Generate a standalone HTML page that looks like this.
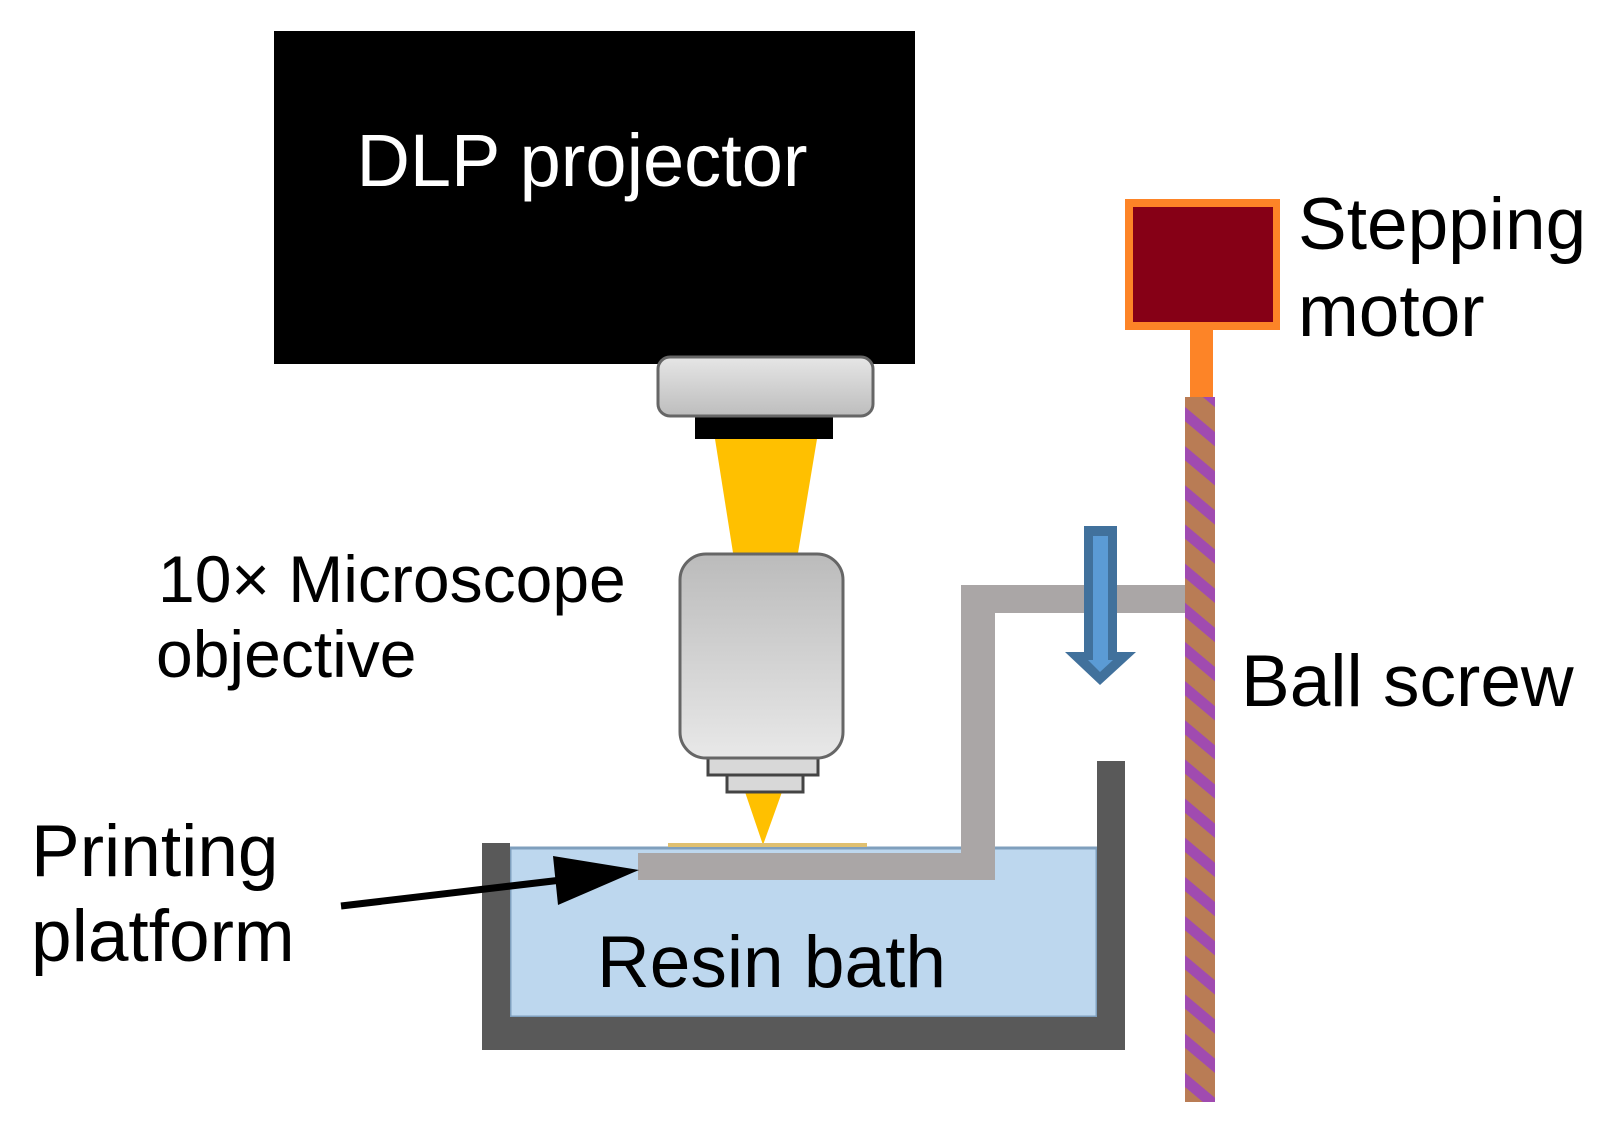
<!DOCTYPE html>
<html><head><meta charset="utf-8"><style>
html,body{margin:0;padding:0;background:#fff;}
svg{display:block;}
text{font-family:"Liberation Sans",Arial,sans-serif;}
</style></head><body>
<svg width="1606" height="1134" viewBox="0 0 1606 1134" xmlns="http://www.w3.org/2000/svg">
<defs>
<linearGradient id="g1" x1="0" y1="0" x2="0" y2="1"><stop offset="0" stop-color="#e6e6e6"/><stop offset="1" stop-color="#bdbdbd"/></linearGradient>
<linearGradient id="g2" x1="0" y1="0" x2="0" y2="1"><stop offset="0" stop-color="#bbbbbb"/><stop offset="1" stop-color="#e8e8e8"/></linearGradient>
<pattern id="stripes" patternUnits="userSpaceOnUse" width="30" height="30" patternTransform="rotate(40)">
<rect width="30" height="30" fill="#b97c55"/><rect width="30" height="11" fill="#a04bb0"/></pattern>
</defs>
<rect x="274" y="31" width="641" height="333" fill="#000"/>
<text x="582" y="186" font-size="74" fill="#fff" text-anchor="middle">DLP projector</text>
<polygon points="715,439 817,439 797,559 734,559" fill="#ffc000"/>
<rect x="695" y="412" width="138" height="27" fill="#000"/>
<rect x="658" y="357" width="215" height="59" rx="12" fill="url(#g1)" stroke="#666" stroke-width="3"/>
<polygon points="745,792 782,792 763,845" fill="#ffc000"/>
<rect x="727" y="775" width="76" height="17" fill="#d8d8d8" stroke="#444" stroke-width="3"/>
<rect x="708" y="757" width="110" height="18" fill="#d8d8d8" stroke="#444" stroke-width="3"/>
<rect x="680" y="554" width="163" height="204" rx="26" fill="url(#g2)" stroke="#666" stroke-width="3"/>
<text x="158" y="602" font-size="66">10× Microscope</text>
<text x="156" y="677" font-size="66">objective</text>
<rect x="510" y="848" width="587" height="169" fill="#bdd7ee" stroke="#7f9fbd" stroke-width="3"/>
<path d="M482,843 H510 V1017 H1097 V761 H1125 V1050 H482 Z" fill="#595959"/>
<text x="597" y="987" font-size="73">Resin bath</text>
<rect x="668" y="843" width="199" height="4" fill="#e0c070"/>
<path d="M638,853 H961 V585 H1186 V613 H995 V880 H638 Z" fill="#aaa6a6"/>
<line x1="341" y1="906" x2="570" y2="879" stroke="#000" stroke-width="7"/>
<polygon points="639,870 553,856 558,905" fill="#000"/>
<text x="31" y="876" font-size="73">Printing</text>
<text x="31" y="961" font-size="73">platform</text>
<polygon points="1084,526 1117,526 1117,652 1136,652 1100,685 1065,652 1084,652" fill="#41719c"/>
<polygon points="1093,536 1108,536 1108,660 1113,660 1100,672 1088,660 1093,660" fill="#5b9bd5"/>
<rect x="1185" y="397" width="30" height="705" fill="url(#stripes)"/>
<rect x="1190" y="330" width="23" height="67" fill="#fd8427"/>
<rect x="1125" y="199" width="155" height="131" fill="#fd8427"/>
<rect x="1133" y="207" width="140" height="115" fill="#860016"/>
<text x="1298" y="249" font-size="73">Stepping</text>
<text x="1298" y="336" font-size="73">motor</text>
<text x="1241" y="706" font-size="73">Ball screw</text>
</svg>
</body></html>
